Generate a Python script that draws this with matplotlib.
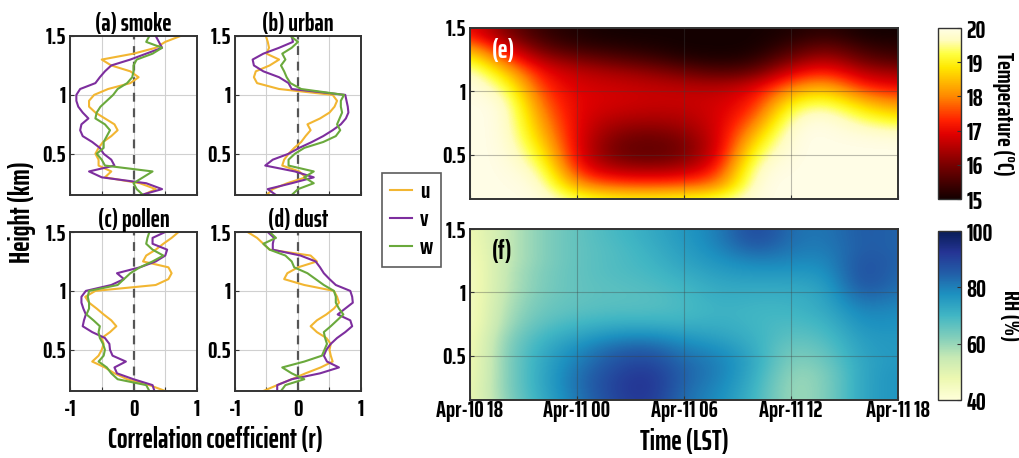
"""Wind-component / aerosol correlation profiles with temperature and RH time-height sections."""
import numpy as np
import matplotlib
matplotlib.use("Agg")
import matplotlib.pyplot as plt
from matplotlib.colors import LinearSegmentedColormap

plt.rcParams.update({"font.family": ["Saira ExtraCondensed", "Roboto Condensed", "DejaVu Sans"],
                     "font.weight": "bold", "axes.labelweight": "bold",
                     "axes.titleweight": "bold", "font.size": 16})

# ---- correlation profiles, heights 0.15 .. 1.5 km every 0.05 km ----
HEIGHT = np.linspace(0.15, 1.5, 28)

SMOKE_U = [0.15, 0.35, 0.10, -0.45, -0.35, -0.55, -0.55, -0.60, -0.55, -0.48, -0.35, -0.25, -0.30, -0.45,
           -0.60, -0.70, -0.70, -0.62, -0.40, -0.05, 0.08, -0.05, -0.35, -0.50, 0.00, 0.35, 0.50, 0.74]
SMOKE_V = [0.12, 0.45, 0.20, -0.50, -0.70, -0.30, -0.35, -0.47, -0.53, -0.65, -0.80, -0.84, -0.82, -0.71,
           -0.80, -0.87, -0.90, -0.90, -0.84, -0.60, -0.53, -0.45, -0.35, -0.05, 0.20, 0.45, 0.40, 0.35]
SMOKE_W = [0.15, 0.05, 0.00, 0.15, 0.30, -0.45, -0.50, -0.58, -0.47, -0.47, -0.42, -0.37, -0.45, -0.60,
           -0.58, -0.52, -0.42, -0.32, -0.25, -0.10, -0.02, 0.00, 0.00, 0.05, 0.30, 0.45, 0.20, 0.25]

URBAN_U = [-0.50, -0.40, -0.17, 0.12, 0.02, -0.25, -0.22, -0.15, -0.06, 0.05, 0.12, 0.20, 0.15, 0.35,
           0.50, 0.58, 0.62, 0.55, -0.30, -0.65, -0.70, -0.67, -0.45, -0.30, -0.50, -0.46, -0.48, -0.51]
URBAN_V = [-0.35, -0.48, -0.10, 0.25, -0.05, -0.52, -0.40, -0.15, 0.02, 0.22, 0.40, 0.55, 0.68, 0.76,
           0.80, 0.79, 0.77, 0.75, -0.10, -0.15, -0.30, -0.55, -0.70, -0.72, -0.55, -0.30, -0.08, -0.10]
URBAN_W = [-0.10, 0.00, 0.25, 0.10, 0.25, -0.15, -0.15, -0.05, 0.10, 0.40, 0.60, 0.67, 0.62, 0.66,
           0.70, 0.68, 0.68, 0.73, 0.05, -0.12, -0.18, -0.22, -0.27, -0.20, -0.25, -0.10, 0.00, -0.12]

POLLEN_U = [0.50, 0.25, -0.10, -0.30, -0.45, -0.65, -0.55, -0.50, -0.47, -0.50, -0.37, -0.27, -0.35, -0.47,
            -0.58, -0.70, -0.76, -0.60, 0.35, 0.55, 0.60, 0.55, 0.15, 0.20, 0.35, 0.47, 0.60, 0.71]
POLLEN_V = [0.33, 0.30, 0.00, -0.26, -0.30, -0.12, -0.33, -0.37, -0.38, -0.45, -0.65, -0.80, -0.78, -0.75,
            -0.79, -0.82, -0.82, -0.75, -0.35, -0.15, -0.26, 0.10, 0.35, 0.50, 0.53, 0.30, 0.30, 0.50]
POLLEN_W = [0.25, 0.20, -0.25, -0.35, -0.42, -0.55, -0.47, -0.45, -0.48, -0.53, -0.55, -0.53, -0.63, -0.74,
            -0.70, -0.70, -0.72, -0.70, -0.25, -0.15, -0.05, 0.10, 0.30, 0.47, 0.30, 0.20, 0.22, 0.25]

DUST_U = [-0.55, -0.33, -0.10, 0.12, 0.36, 0.55, 0.52, 0.50, 0.52, 0.45, 0.30, 0.20, 0.30, 0.45,
          0.57, 0.65, 0.62, 0.57, 0.10, -0.22, -0.17, 0.00, 0.30, 0.20, -0.45, -0.55, -0.65, -0.80]
DUST_V = [-0.33, -0.33, -0.10, 0.35, 0.65, 0.46, 0.41, 0.45, 0.52, 0.62, 0.75, 0.86, 0.83, 0.63,
          0.75, 0.87, 0.86, 0.83, 0.60, 0.50, 0.41, 0.35, 0.28, 0.04, -0.40, -0.40, -0.38, -0.48]
DUST_W = [-0.27, -0.20, 0.10, -0.10, -0.25, 0.10, 0.38, 0.42, 0.46, 0.43, 0.41, 0.52, 0.62, 0.72,
          0.65, 0.60, 0.60, 0.57, 0.41, 0.28, 0.15, -0.06, -0.10, -0.20, -0.45, -0.55, -0.35, -0.45]

PANELS = [("(a) smoke", SMOKE_U, SMOKE_V, SMOKE_W),
          ("(b) urban", URBAN_U, URBAN_V, URBAN_W),
          ("(c) pollen", POLLEN_U, POLLEN_V, POLLEN_W),
          ("(d) dust", DUST_U, DUST_V, DUST_W)]
COMP = [("u", "#f2b632"), ("v", "#7d2e9e"), ("w", "#6aa93c")]

# ---- time-height sections: hours after Apr-10 18 LST, cell-centre heights ----
HOURS = [0, 2, 4, 6, 8, 10, 12, 14, 16, 18, 20, 22, 24]
GRID_H = [0.15, 0.25, 0.35, 0.45, 0.55, 0.65, 0.75, 0.85, 0.95, 1.05, 1.15, 1.25, 1.35, 1.45]
TIME_LABELS = ["Apr-10 18", "Apr-11 00", "Apr-11 06", "Apr-11 12", "Apr-11 18"]

TEMP = [  # rows follow GRID_H (bottom to top), columns follow HOURS
    [20.0, 20.0, 20.0, 19.3, 19.0, 19.0, 19.1, 19.3, 20.0, 20.0, 20.0, 20.0, 20.0],
    [20.0, 20.0, 19.9, 18.2, 17.8, 17.7, 17.8, 18.0, 20.0, 20.0, 20.0, 20.0, 20.0],
    [20.0, 20.0, 19.7, 17.4, 16.8, 16.7, 16.8, 17.4, 19.9, 20.0, 20.0, 20.0, 20.0],
    [20.0, 20.0, 19.3, 17.0, 16.1, 15.9, 16.1, 17.0, 19.6, 20.0, 20.0, 20.0, 20.0],
    [20.0, 20.0, 18.9, 16.9, 15.9, 15.7, 15.9, 16.8, 19.1, 20.0, 20.0, 20.0, 20.0],
    [20.0, 20.0, 18.5, 16.9, 16.1, 15.9, 16.1, 16.8, 18.5, 20.0, 20.0, 19.9, 19.8],
    [20.0, 20.0, 18.2, 16.9, 16.4, 16.3, 16.4, 16.8, 17.9, 19.8, 20.0, 19.5, 19.2],
    [20.0, 20.0, 17.9, 16.9, 16.7, 16.6, 16.6, 16.8, 17.4, 19.4, 19.7, 18.9, 18.4],
    [20.0, 19.8, 17.6, 16.9, 16.8, 16.7, 16.7, 16.7, 17.1, 18.7, 19.1, 18.1, 17.7],
    [20.0, 19.3, 17.3, 16.8, 16.7, 16.6, 16.5, 16.4, 16.7, 17.8, 18.3, 17.2, 16.9],
    [19.8, 18.6, 17.0, 16.6, 16.4, 16.2, 15.9, 15.6, 15.8, 16.9, 17.4, 16.5, 16.3],
    [19.2, 17.6, 16.4, 16.0, 15.7, 15.5, 15.2, 15.1, 15.2, 16.0, 16.6, 15.8, 15.5],
    [18.2, 16.8, 15.7, 15.3, 15.2, 15.1, 15.0, 15.0, 15.0, 15.4, 15.9, 15.3, 15.2],
    [17.2, 16.0, 15.3, 15.1, 15.0, 15.0, 15.0, 15.0, 15.0, 15.1, 15.3, 15.0, 15.0],
]
RH = [
    [46, 61, 72, 81, 89, 93, 82, 78, 70, 58, 62, 74, 77],
    [46, 62, 73, 82, 90, 94, 83, 79, 71, 58, 62, 74, 77],
    [45, 62, 73, 82, 89, 93, 84, 80, 72, 59, 62, 74, 77],
    [45, 62, 73, 80, 87, 90, 83, 80, 73, 61, 64, 74, 76],
    [44, 62, 72, 78, 84, 86, 80, 78, 72, 63, 66, 75, 76],
    [44, 61, 70, 74, 78, 79, 76, 74, 71, 66, 68, 76, 76],
    [43, 59, 67, 70, 72, 72, 71, 72, 70, 68, 70, 78, 77],
    [43, 58, 65, 67, 68, 68, 69, 71, 70, 70, 72, 80, 78],
    [43, 57, 64, 66, 67, 67, 69, 72, 71, 71, 73, 84, 80],
    [43, 56, 63, 66, 67, 68, 70, 73, 73, 73, 74, 88, 82],
    [43, 56, 63, 66, 68, 69, 72, 75, 76, 76, 76, 89, 83],
    [44, 55, 62, 66, 68, 70, 74, 77, 80, 79, 78, 88, 84],
    [45, 55, 62, 66, 68, 71, 75, 79, 86, 81, 80, 86, 84],
    [46, 55, 62, 66, 69, 72, 76, 80, 90, 82, 81, 86, 84],
]

TEMP_CMAP = LinearSegmentedColormap.from_list("temp", [
    (0.00, "#140000"), (0.20, "#7a0000"), (0.38, "#e00000"), (0.46, "#ff2000"),
    (0.60, "#ff8800"), (0.77, "#ffe800"), (0.85, "#ffff40"), (0.93, "#fffcc0"), (1.00, "#fffde6")])

SPINE = "#333333"
W, H = 1020, 458


def box(x0, y0, x1, y1):
    """pixel box (top-left origin) -> figure fraction rect"""
    return [x0 / W, 1 - y1 / H, (x1 - x0) / W, (y1 - y0) / H]


def style(ax):
    for s in ax.spines.values():
        s.set_color(SPINE)
        s.set_linewidth(1.4)
    ax.tick_params(direction="in", length=3, width=0.8, color=SPINE, labelsize=17, pad=3)


def profile(ax, title, u, v, w, bottom):
    for (lab, col), r in zip(COMP, (u, v, w)):
        ax.plot(r, HEIGHT, color=col, lw=1.5, label=lab)
    ax.axvline(0, color="#555555", ls=(0, (4, 3)), lw=1.6, zorder=1)
    ax.set_xlim(-1, 1)
    ax.set_ylim(0.15, 1.5)
    ax.set_xticks([-1, -0.5, 0, 0.5, 1])
    ax.set_xticklabels(["-1", "", "0", "", "1"] if bottom else [])
    ax.set_yticks([0.5, 1, 1.5])
    ax.set_yticklabels(["0.5", "1", "1.5"])
    ax.grid(color="#d0d0d0", lw=0.8)
    ax.set_axisbelow(True)
    ax.set_title(title, fontsize=18, pad=0)
    style(ax)
    ax.tick_params(axis="x", pad=6)


def section(ax, data, cmap, vmin, vmax, label, txtcol, bottom):
    dt = HOURS[1] - HOURS[0]
    dh = GRID_H[1] - GRID_H[0]
    im = ax.imshow(np.array(data), origin="lower", aspect="auto", cmap=cmap, vmin=vmin, vmax=vmax,
                   interpolation="bicubic",
                   extent=[HOURS[0] - dt / 2, HOURS[-1] + dt / 2, GRID_H[0] - dh / 2, GRID_H[-1] + dh / 2])
    ax.set_xlim(HOURS[0], HOURS[-1])
    ax.set_ylim(0.15, 1.5)
    ax.set_xticks([0, 6, 12, 18, 24])
    ax.set_xticklabels(TIME_LABELS if bottom else [])
    ax.set_yticks([0.5, 1, 1.5])
    ax.set_yticklabels(["0.5", "1", "1.5"])
    ax.grid(color="#404040", lw=0.8, alpha=0.35)
    style(ax)
    ax.tick_params(axis="x", pad=0)
    ax.text(0.05, 0.87, label, transform=ax.transAxes, color=txtcol, fontsize=19,
            ha="left", va="center")
    return im


def main():
    fig = plt.figure(figsize=(W / 100, H / 100), dpi=100)
    rects = [box(70, 36, 197, 195), box(235, 36, 361, 195),
             box(70, 232, 197, 391), box(235, 232, 361, 391)]
    axes = []
    for i, (rect, (title, u, v, w)) in enumerate(zip(rects, PANELS)):
        ax = fig.add_axes(rect)
        profile(ax, title, u, v, w, bottom=i >= 2)
        axes.append(ax)

    handles, labels = axes[0].get_legend_handles_labels()
    leg = fig.legend(handles, labels, loc="upper left", bbox_to_anchor=(382 / W, 1 - 173 / H),
                     borderaxespad=0, frameon=True, fancybox=False, handlelength=0.9,
                     handletextpad=0.35, borderpad=0.35, labelspacing=0.25, fontsize=17)
    leg.get_frame().set_edgecolor(SPINE)
    leg.get_frame().set_linewidth(1.2)

    fig.text(22 / W, 1 - 212 / H, "Height (km)", rotation=90, ha="center", va="center", fontsize=20)
    fig.text(215 / W, 1 - 440 / H, "Correlation coefficient (r)", ha="center", va="center", fontsize=20)

    ax_e = fig.add_axes(box(470, 28, 898, 199))
    im_t = section(ax_e, TEMP, TEMP_CMAP, 15, 20, "(e)", "white", False)
    ax_f = fig.add_axes(box(470, 229, 898, 400))
    im_rh = section(ax_f, RH, "YlGnBu", 40, 100, "(f)", "black", True)
    fig.text(684 / W, 1 - 442 / H, "Time (LST)", ha="center", va="center", fontsize=20)

    for im, rect, ticks, lab in [(im_t, box(938, 28, 961, 199), [15, 16, 17, 18, 19, 20], "Temperature (°C)"),
                                 (im_rh, box(938, 231, 961, 400), [40, 60, 80, 100], "RH (%)")]:
        cax = fig.add_axes(rect)
        cb = fig.colorbar(im, cax=cax, ticks=ticks)
        cb.outline.set_edgecolor(SPINE)
        cb.outline.set_linewidth(1.0)
        cax.tick_params(direction="in", length=3, width=0.8, color=SPINE, labelsize=18, pad=4)
        cax.set_ylabel(lab, rotation=-90, fontsize=17, labelpad=20)

    fig.savefig("out.png", dpi=100)
    plt.close(fig)


if __name__ == "__main__":
    main()
